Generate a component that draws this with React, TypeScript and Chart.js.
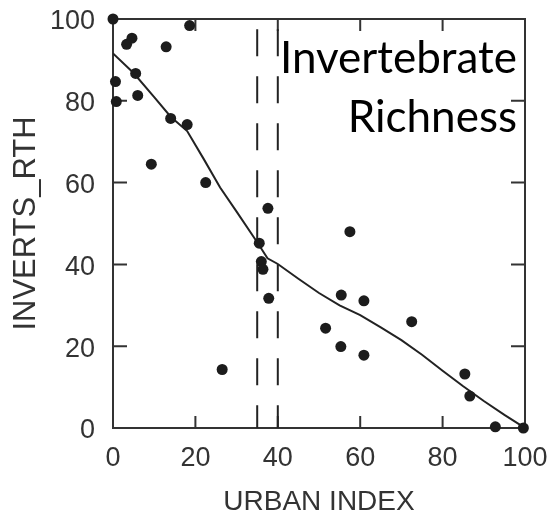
import { useEffect, useRef } from "react";
import { Chart, registerables } from "chart.js";

Chart.register(...registerables);

// Site observations: urban index vs. invertebrate richness
const urbanIndex = [
  0, 0.6, 0.8, 3.3, 4.6, 5.5, 6.0, 9.3, 12.9, 14.0, 18.0, 18.6, 22.5, 26.5,
  35.5, 36.0, 36.4, 37.6, 37.8, 51.6, 55.3, 55.4, 57.5, 60.9, 60.9, 72.5,
  85.4, 86.6, 92.8, 99.6,
];
const invertsRth = [
  100, 84.7, 79.8, 93.8, 95.3, 86.7, 81.3, 64.5, 93.2, 75.7, 74.2, 98.4, 60.0,
  14.3, 45.2, 40.7, 38.8, 53.7, 31.7, 24.4, 19.9, 32.5, 48.0, 31.1, 17.8, 26.0,
  13.2, 7.8, 0.3, 0,
];

// Smoothed trend through the observations
const trendX = [0, 5, 10, 14, 18, 22, 26, 30, 35, 37.5, 40, 45, 50, 55, 60, 65, 70, 75, 80, 85, 90, 95, 100];
const trendY = [91.6, 86.8, 80.9, 76.1, 72.6, 65.8, 58.8, 52.9, 45.4, 41.5, 40.1, 36.5, 33.0, 30.0, 27.6, 24.6, 21.5, 17.9, 14.0, 10.2, 6.6, 3.2, 0];

// Threshold band on the urban index
const thresholds = [35, 40];
const thresholdTop = 97.5;

const axisTicks = [0, 20, 40, 60, 80, 100];

const AXIS_FONT = "'Liberation Sans', Arial, Helvetica, sans-serif";
const INK = "#333333";

const noScalePadding = (s: any) => {
  s.paddingTop = 0;
  s.paddingBottom = 0;
  s.paddingLeft = 0;
  s.paddingRight = 0;
};

const framePlugin = {
  id: "frameWithInnerTicks",
  beforeDatasetsDraw(chart: any) {
    const { ctx, chartArea, scales } = chart;
    const { left, right, top, bottom } = chartArea;
    const x = scales.x;
    const y = scales.y;
    ctx.save();
    ctx.strokeStyle = INK;
    ctx.lineWidth = 2;
    ctx.strokeRect(left, top, right - left, bottom - top);
    ctx.beginPath();
    const inner = axisTicks.slice(1, -1);
    for (const v of inner) {
      const px = x.getPixelForValue(v);
      ctx.moveTo(px, bottom);
      ctx.lineTo(px, bottom - 12);
      ctx.moveTo(px, top);
      ctx.lineTo(px, top + 12);
      const py = y.getPixelForValue(v);
      ctx.moveTo(left, py);
      ctx.lineTo(left + 14, py);
      ctx.moveTo(right, py);
      ctx.lineTo(right - 14, py);
    }
    ctx.stroke();
    ctx.restore();
  },
};

const captionPlugin = {
  id: "caption",
  afterDraw(chart: any) {
    const { ctx, chartArea } = chart;
    ctx.save();
    ctx.fillStyle = "#000000";
    ctx.font = "44px Lato, 'Open Sans', sans-serif";
    ctx.textAlign = "right";
    ctx.textBaseline = "alphabetic";
    const xr = chartArea.right - 8;
    ctx.fillText("Invertebrate", xr, chartArea.top + 54);
    ctx.fillText("Richness", xr, chartArea.top + 113);
    ctx.restore();
  },
};

export default function App() {
  const canvasRef = useRef<HTMLCanvasElement | null>(null);

  useEffect(() => {
    document.body.style.margin = "0";
    const canvas = canvasRef.current;
    if (!canvas) return;

    const observations = urbanIndex.map((u, i) => ({ x: u, y: invertsRth[i] }));
    const trend = trendX.map((u, i) => ({ x: u, y: trendY[i] }));
    const thresholdSets = thresholds.map((t) => ({
      data: [
        { x: t, y: thresholdTop },
        { x: t, y: 0 },
      ],
      showLine: true,
      borderColor: "#222222",
      borderWidth: 2,
      borderDash: [27, 20],
      pointRadius: 0,
      fill: false,
    }));

    const chart = new Chart(canvas, {
      type: "scatter",
      data: {
        datasets: [
          {
            data: observations,
            backgroundColor: "#1c1c1c",
            borderWidth: 0,
            pointRadius: 5.5,
            clip: false,
          } as any,
          {
            data: trend,
            showLine: true,
            borderColor: "#222222",
            borderWidth: 2,
            pointRadius: 0,
            fill: false,
          },
          ...thresholdSets,
        ],
      },
      options: {
        responsive: false,
        devicePixelRatio: 1,
        animation: false,
        layout: { padding: { top: 19, right: 25, left: 0, bottom: 0 } },
        plugins: {
          legend: { display: false },
          tooltip: { enabled: false },
        },
        scales: {
          x: {
            type: "linear",
            min: 0,
            max: 100,
            afterFit: (s: any) => {
              s.height = 88;
              noScalePadding(s);
            },
            grid: { display: false, drawTicks: false },
            border: { display: false },
            ticks: {
              stepSize: 20,
              padding: 14,
              color: INK,
              font: { family: AXIS_FONT, size: 27 },
            },
            title: {
              display: true,
              text: "URBAN INDEX",
              color: INK,
              font: { family: AXIS_FONT, size: 28, lineHeight: 1 },
              padding: 0,
            },
          },
          y: {
            type: "linear",
            min: 0,
            max: 100,
            afterFit: (s: any) => {
              s.width = 113;
              noScalePadding(s);
            },
            grid: { display: false, drawTicks: false },
            border: { display: false },
            ticks: {
              stepSize: 20,
              padding: 18,
              labelOffset: 3,
              color: INK,
              font: { family: AXIS_FONT, size: 27 },
            },
            title: {
              display: true,
              text: "INVERTS_RTH",
              color: INK,
              font: { family: AXIS_FONT, size: 31, lineHeight: 1 },
              padding: { top: 11, bottom: 0 },
            },
          },
        },
      },
      plugins: [framePlugin, captionPlugin],
    });

    return () => chart.destroy();
  }, []);

  return (
    <div style={{ width: 550, height: 516 }}>
      <canvas ref={canvasRef} width={550} height={516} style={{ display: "block" }} />
    </div>
  );
}
